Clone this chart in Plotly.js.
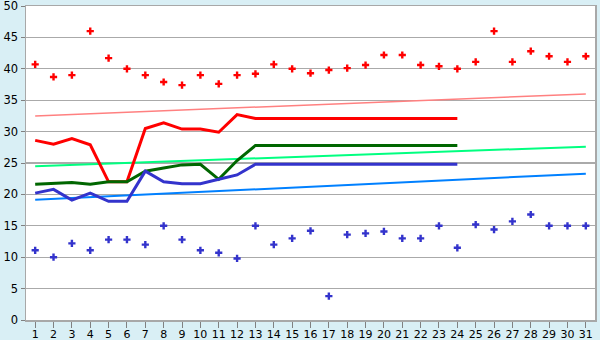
<!DOCTYPE html>
<html>
<head>
<meta charset="utf-8">
<script src="https://cdn.plot.ly/plotly-3.0.1.min.js"></script>
<style>html,body{margin:0;padding:0;background:#D9EFF5;}#chart{width:600px;height:340px;}</style>
</head>
<body>
<div id="chart"></div>
<script>
const days = Array.from({length: 31}, (_, i) => i + 1);
const tickLabels = days.map(String);

const redPoints = [40.7, 38.7, 39.0, 46.0, 41.7, 40.0, 39.0, 37.9, 37.4, 39.0,
                   37.6, 39.0, 39.2, 40.7, 40.0, 39.3, 39.8, 40.1, 40.6, 42.2,
                   42.2, 40.6, 40.4, 40.0, 41.1, 46.0, 41.1, 42.8, 42.0, 41.1, 42.0];
const bluePoints = [11.1, 10.0, 12.2, 11.1, 12.8, 12.8, 12.0, 15.0, 12.8, 11.1,
                    10.7, 9.8, 15.0, 12.0, 13.0, 14.2, 3.8, 13.6, 13.8, 14.1,
                    13.0, 13.0, 15.0, 11.5, 15.2, 14.4, 15.7, 16.8, 15.0, 15.0, 15.0];

const lineDays = days.slice(0, 24);
const redLine = [28.6, 28.0, 28.9, 27.9, 22.0, 22.0, 30.5, 31.4, 30.4, 30.4,
                 29.9, 32.7, 32.1, 32.1, 32.1, 32.1, 32.1, 32.1, 32.1, 32.1,
                 32.1, 32.1, 32.1, 32.1];
const greenLine = [21.6, 21.7, 21.9, 21.6, 22.0, 22.0, 23.7, 24.2, 24.7, 24.8,
                   22.4, 25.4, 27.8, 27.8, 27.8, 27.8, 27.8, 27.8, 27.8, 27.8,
                   27.8, 27.8, 27.8, 27.8];
const blueLine = [20.2, 20.8, 19.1, 20.2, 18.9, 18.9, 23.7, 22.0, 21.7, 21.7,
                  22.4, 23.1, 24.8, 24.8, 24.8, 24.8, 24.8, 24.8, 24.8, 24.8,
                  24.8, 24.8, 24.8, 24.8];

const trendDays = [1, 31];
const pinkTrend = [32.5, 36.0];
const lightGreenTrend = [24.5, 27.6];
const lightBlueTrend = [19.15, 23.3];

const traces = [
  {x: trendDays, y: pinkTrend, mode: 'lines', line: {color: '#FF8080', width: 1.5}},
  {x: trendDays, y: lightGreenTrend, mode: 'lines', line: {color: '#00FF80', width: 2}},
  {x: trendDays, y: lightBlueTrend, mode: 'lines', line: {color: '#0080FF', width: 2}},
  {x: lineDays, y: redLine, mode: 'lines', line: {color: '#FF0000', width: 3}},
  {x: lineDays, y: greenLine, mode: 'lines', line: {color: '#006600', width: 3}},
  {x: lineDays, y: blueLine, mode: 'lines', line: {color: '#3333CC', width: 3}},
  {x: days, y: redPoints, mode: 'markers', marker: {color: '#FF0000', symbol: 'cross', size: 6}},
  {x: days, y: bluePoints, mode: 'markers', marker: {color: '#3333CC', symbol: 'cross', size: 6}}
];

const layout = {
  width: 600, height: 340,
  margin: {l: 26, r: 5, t: 6, b: 20, pad: 0},
  paper_bgcolor: '#D9EFF5',
  plot_bgcolor: '#FFFFFF',
  showlegend: false,
  font: {family: 'DejaVu Sans, Verdana, sans-serif', size: 11, color: '#000000'},
  xaxis: {
    range: [0.5, 31.5], tickvals: days, ticktext: tickLabels,
    showgrid: false, zeroline: false,
    showline: true, linecolor: '#A8A8A8', linewidth: 1.5, mirror: true,
    ticks: 'outside', ticklen: 6, tickcolor: '#808080', tickwidth: 1,
    ticklabelstandoff: -3, ticklabeloverflow: 'allow',
    tickfont: {size: 11}
  },
  yaxis: {
    range: [0, 50], dtick: 5,
    showgrid: true, gridcolor: '#AAAAAA', gridwidth: 1.3,
    zeroline: false,
    showline: true, linecolor: '#A8A8A8', linewidth: 1.5, mirror: true,
    ticks: 'outside', ticklen: 4, tickcolor: '#808080', tickwidth: 1,
    ticklabeloverflow: 'allow',
    tickfont: {size: 11.5}
  }
};

Plotly.newPlot('chart', traces, layout, {staticPlot: true, displayModeBar: false});
</script>
</body>
</html>
